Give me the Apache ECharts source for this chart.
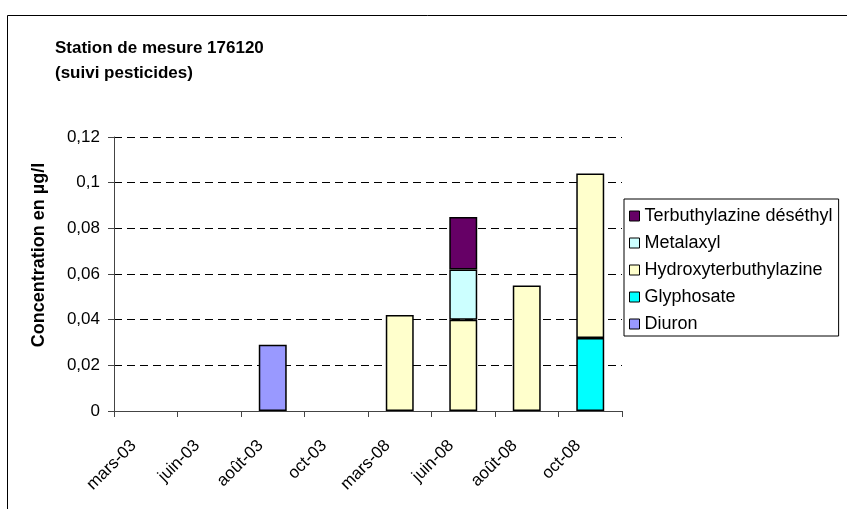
<!DOCTYPE html>
<html>
<head>
<meta charset="utf-8">
<script src="https://cdn.jsdelivr.net/npm/echarts@6/dist/echarts.min.js"></script>
<style>
  html, body { margin: 0; padding: 0; background: #fff; }
  #chart { width: 847px; height: 509px; }
</style>
</head>
<body>
<div id="chart"></div>
<script>
// Sampling dates
const categories = ['mars-03', 'juin-03', 'août-03', 'oct-03', 'mars-08', 'juin-08', 'août-08', 'oct-08'];

// Concentrations in µg/l per substance (null = not detected)
const diuron          = [null, null, 0.029, null, null,  null,  null,  null];
const glyphosate      = [null, null, null,  null, null,  null,  null,  0.032];
const hydroxyterbuthylazine = [null, null, null, null, 0.042, 0.040, 0.055, 0.072];
const metalaxyl       = [null, null, null,  null, null,  0.022, null,  null];
const terbuthylazineDeset = [null, null, null, null, null, 0.023, null, null];

const yTicks = [0, 0.02, 0.04, 0.06, 0.08, 0.1, 0.12];

const seriesDefs = [
  { name: 'Diuron', data: diuron, color: '#9999FF' },
  { name: 'Glyphosate', data: glyphosate, color: '#00FFFF' },
  { name: 'Hydroxyterbuthylazine', data: hydroxyterbuthylazine, color: '#FFFFCC' },
  { name: 'Metalaxyl', data: metalaxyl, color: '#CCFFFF' },
  { name: 'Terbuthylazine déséthyl', data: terbuthylazineDeset, color: '#660066' }
];

const FONT = '"Liberation Sans", Arial, sans-serif';
const chart = echarts.init(document.getElementById('chart'), null, { renderer: 'canvas' });

chart.setOption({
  animation: false,
  textStyle: { fontFamily: FONT },
  graphic: [
    {
      type: 'rect',
      shape: { x: 7.5, y: 15.5, width: 900, height: 600 },
      style: { fill: 'none', stroke: '#000', lineWidth: 1 },
      silent: true, z: -1
    },
    {
      type: 'text',
      left: 55, top: 36,
      style: {
        text: 'Station de mesure 176120\n(suivi pesticides)',
        font: 'bold 17px ' + FONT,
        fill: '#000',
        lineHeight: 25
      }
    }
  ],
  grid: { left: 114, right: 225, top: 137, bottom: 98, containLabel: false },
  legend: {
    orient: 'vertical',
    left: 624, top: 199,
    width: 217,
    padding: [8, 6, 3, 5],
    itemGap: 9,
    itemWidth: 10, itemHeight: 10,
    icon: 'rect',
    borderColor: '#000', borderWidth: 1,
    itemStyle: { borderColor: '#000', borderWidth: 1 },
    textStyle: { fontSize: 18, color: '#000' },
    data: ['Terbuthylazine déséthyl', 'Metalaxyl', 'Hydroxyterbuthylazine', 'Glyphosate', 'Diuron']
  },
  xAxis: {
    type: 'category',
    data: categories,
    boundaryGap: true,
    axisLine: { lineStyle: { color: '#444', width: 1 } },
    axisTick: { show: true, length: 6, lineStyle: { color: '#444' } },
    axisLabel: {
      rotate: 45, fontSize: 17, color: '#000', margin: 20, interval: 0,
      padding: [0, 17, 0, 0]
    }
  },
  yAxis: {
    type: 'value',
    min: 0, max: 0.12, interval: 0.02,
    name: 'Concentration en µg/l',
    nameLocation: 'middle',
    nameGap: 66,
    nameRotate: 90,
    nameTextStyle: { fontSize: 18, fontWeight: 'bold', color: '#000', padding: [0, 0, 0, 38] },
    axisLine: { show: true, lineStyle: { color: '#444', width: 1 } },
    axisTick: { show: true, length: 6, lineStyle: { color: '#444' } },
    axisLabel: {
      fontSize: 17, color: '#000', margin: 14,
      formatter: v => {
        const t = yTicks.find(x => Math.abs(x - v) < 1e-9);
        return String(t !== undefined ? t : v).replace('.', ',');
      }
    },
    splitLine: { show: true, lineStyle: { color: '#000', type: [8, 5], width: 1 } }
  },
  series: seriesDefs.map(s => ({
    name: s.name,
    type: 'bar',
    stack: 'total',
    data: s.data,
    barWidth: '44%',
    itemStyle: { color: s.color, borderColor: '#000', borderWidth: 1.5 }
  }))
});
</script>
</body>
</html>
